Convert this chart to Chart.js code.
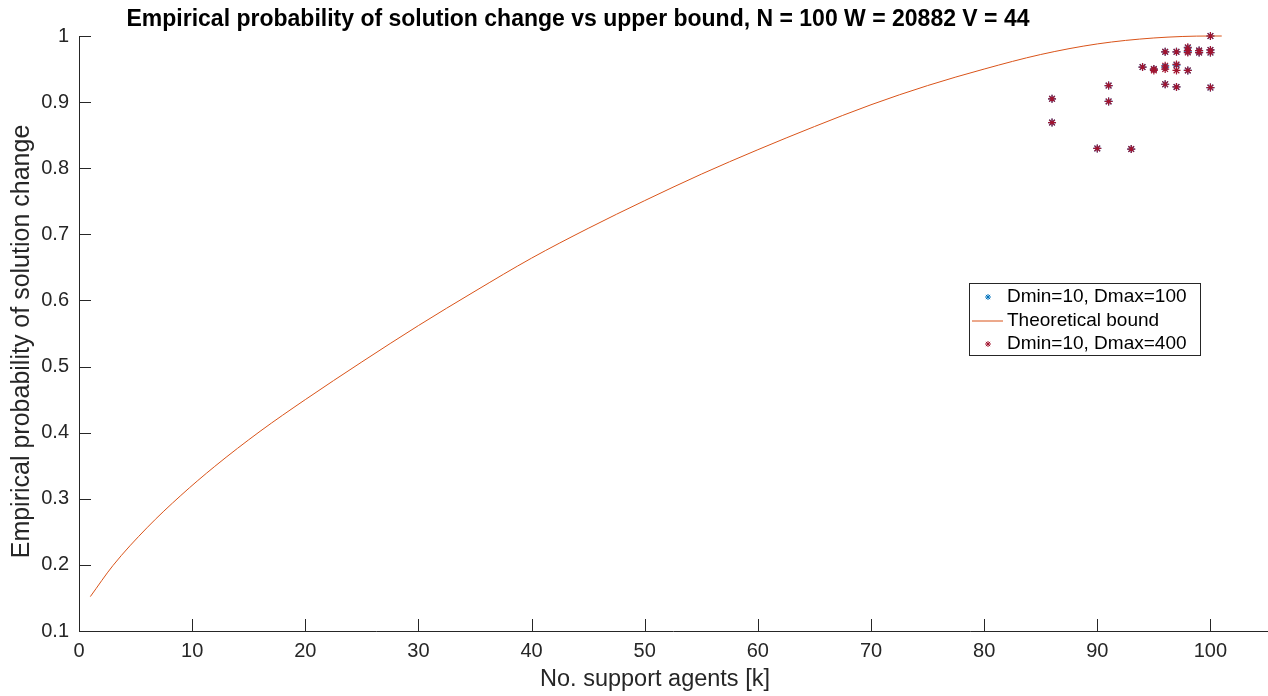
<!DOCTYPE html>
<html>
<head>
<meta charset="utf-8">
<script src="https://cdn.jsdelivr.net/npm/chart.js@4.4.1/dist/chart.umd.min.js"></script>
<style>
  html, body { margin: 0; padding: 0; background: #fff; }
  #wrap { position: relative; width: 1268px; height: 696px; }
</style>
</head>
<body>
<div id="wrap"><canvas id="probChart"></canvas></div>
<script>
// theoretical upper bound
const boundK = [1, 3, 6, 9, 12, 16, 20, 25, 30, 35, 40, 45, 50, 55, 60, 65, 70, 75, 80, 85, 90, 95, 100, 101];
const boundP = [0.152, 0.199, 0.256, 0.305, 0.349, 0.402, 0.450, 0.507, 0.562, 0.614, 0.664, 0.709, 0.751, 0.791, 0.828, 0.863, 0.896, 0.925, 0.950, 0.972, 0.988, 0.997, 1.0, 1.0];

// empirical runs, Dmin=10 Dmax=100 (hidden under the Dmax=400 markers)
const d100K = [86, 86, 90, 91, 91, 93, 94, 95, 96, 96, 96, 97, 97, 97, 98, 98, 98, 99, 99, 100, 100, 100, 100];
const d100P = [0.905, 0.869, 0.830, 0.925, 0.901, 0.829, 0.953, 0.950, 0.976, 0.953, 0.927, 0.976, 0.956, 0.923, 0.982, 0.976, 0.948, 0.978, 0.975, 1.0, 0.979, 0.975, 0.922];

// empirical runs, Dmin=10 Dmax=400
const d400K = [86, 86, 90, 91, 91, 93, 94, 95, 95, 96, 96, 96, 96, 97, 97, 97, 97, 98, 98, 98, 98, 99, 99, 100, 100, 100, 100];
const d400P = [0.905, 0.869, 0.830, 0.925, 0.901, 0.829, 0.953, 0.950, 0.948, 0.976, 0.955, 0.950, 0.927, 0.976, 0.957, 0.948, 0.923, 0.983, 0.978, 0.975, 0.948, 0.978, 0.975, 1.0, 0.979, 0.975, 0.922];

const xTickMax = 100;
const titleText = 'Empirical probability of solution change vs upper bound, N = 100 W = 20882 V = 44';
const xLabel = 'No. support agents [k]';
const yLabel = 'Empirical probability of solution change';

const toPoints = (xs, ys) => xs.map((x, i) => ({ x: x, y: ys[i] }));
const axisColor = '#262626';
const FONT = "'Liberation Sans', Arial, Helvetica, sans-serif";

Chart.defaults.font.family = FONT;
Chart.defaults.color = axisColor;

// MATLAB style: ticks pointing inward, title, axis labels and boxed legend
const matlabDecor = {
    id: 'matlabDecor',
    afterDraw(chart) {
        const ctx = chart.ctx;
        const area = chart.chartArea;
        const xs = chart.scales.x;
        const ys = chart.scales.y;
        ctx.save();
        ctx.strokeStyle = axisColor;
        ctx.lineWidth = 1;
        ctx.beginPath();
        xs.ticks.forEach(t => {
            const px = Math.round(xs.getPixelForValue(t.value)) + 0.5;
            ctx.moveTo(px, area.bottom);
            ctx.lineTo(px, area.bottom - 12);
        });
        ys.ticks.forEach(t => {
            const py = Math.round(ys.getPixelForValue(t.value)) + 0.5;
            ctx.moveTo(area.left, py);
            ctx.lineTo(area.left + 12, py);
        });
        ctx.stroke();

        // title
        ctx.fillStyle = '#000';
        ctx.font = 'bold 23px ' + FONT;
        ctx.textAlign = 'center';
        ctx.textBaseline = 'alphabetic';
        ctx.fillText(titleText, area.left + 499, 26);

        // axis labels
        ctx.fillStyle = axisColor;
        ctx.textBaseline = 'middle';
        ctx.font = '23.5px ' + FONT;
        ctx.fillText(xLabel, area.left + 576, 680);
        ctx.save();
        ctx.translate(22, (area.top + area.bottom) / 2 + 8);
        ctx.rotate(-Math.PI / 2);
        ctx.font = '25px ' + FONT;
        ctx.fillText(yLabel, 0, 0);
        ctx.restore();

        // legend box
        const lx = area.left + 890, ly = 283, lw = 231, lh = 72;
        ctx.fillStyle = '#fff';
        ctx.fillRect(lx, ly, lw, lh);
        ctx.strokeStyle = axisColor;
        ctx.strokeRect(lx + 0.5, ly + 0.5, lw, lh);
        ctx.font = '19px ' + FONT;
        ctx.textAlign = 'left';
        ctx.textBaseline = 'middle';
        chart.data.datasets.forEach((ds, i) => {
            const cy = ly + 14 + i * 23.5;
            ctx.strokeStyle = ds.borderColor;
            ctx.lineWidth = 1;
            if (ds.showLine) {
                ctx.beginPath();
                ctx.moveTo(lx + 3, cy + 0.5);
                ctx.lineTo(lx + 34, cy + 0.5);
                ctx.stroke();
            } else {
                Chart.helpers.drawPoint(ctx, { pointStyle: 'star', radius: 3, borderWidth: 1, rotation: 0 }, lx + 19, cy);
            }
            ctx.fillStyle = '#000';
            ctx.fillText(ds.label, lx + 38, cy);
        });
        ctx.restore();
    }
};

new Chart(document.getElementById('probChart').getContext('2d'), {
    type: 'scatter',
    data: {
        datasets: [{
            label: 'Dmin=10, Dmax=100',
            data: toPoints(d100K, d100P),
            pointStyle: 'star',
            pointRadius: 4,
            pointBorderWidth: 1.2,
            borderColor: '#0072BD',
            backgroundColor: '#0072BD',
            clip: false,
            order: 2
        }, {
            label: 'Theoretical bound',
            data: toPoints(boundK, boundP),
            showLine: true,
            cubicInterpolationMode: 'monotone',
            borderColor: '#D95319',
            borderWidth: 1,
            pointRadius: 0,
            clip: false,
            order: 1
        }, {
            label: 'Dmin=10, Dmax=400',
            data: toPoints(d400K, d400P),
            pointStyle: 'star',
            pointRadius: 4,
            pointBorderWidth: 1.2,
            borderColor: '#A2142F',
            backgroundColor: '#A2142F',
            clip: false,
            order: 0
        }]
    },
    options: {
        responsive: true,
        maintainAspectRatio: false,
        animation: false,
        layout: { autoPadding: false, padding: { top: 36, right: 1, left: 0, bottom: 0 } },
        plugins: {
            legend: { display: false },
            title: { display: false },
            tooltip: { enabled: false }
        },
        scales: {
            x: {
                type: 'linear',
                min: 0,
                max: 105,
                afterFit: s => { s.height = 65; s.paddingLeft = 0; s.paddingRight = 0; },
                afterBuildTicks: s => { s.ticks = s.ticks.filter(t => t.value <= xTickMax); },
                grid: { display: false, drawTicks: false },
                border: { display: true, color: axisColor, width: 1 },
                ticks: { stepSize: 10, padding: 8, font: { size: 20 }, color: axisColor, maxRotation: 0 },
                title: { display: false }
            },
            y: {
                type: 'linear',
                min: 0.1,
                max: 1,
                afterFit: s => { s.width = 79; s.paddingTop = 0; s.paddingBottom = 0; },
                grid: { display: false, drawTicks: false },
                border: { display: true, color: axisColor, width: 1 },
                ticks: {
                    stepSize: 0.1,
                    padding: 10,
                    font: { size: 20 },
                    color: axisColor,
                    callback: v => String(Math.round(v * 10) / 10)
                },
                title: { display: false }
            }
        }
    },
    plugins: [matlabDecor]
});
</script>
</body>
</html>
